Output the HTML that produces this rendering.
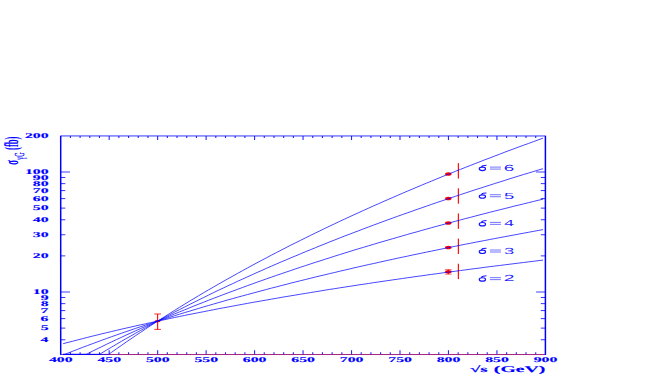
<!DOCTYPE html>
<html><head><meta charset="utf-8"><title>plot</title>
<style>
html,body{margin:0;padding:0;background:#fff;}
body{width:654px;height:382px;overflow:hidden;position:relative;}
text{fill:#0000ff;text-rendering:geometricPrecision;}
</style></head><body>
<svg width="654" height="382" viewBox="0 0 654 382" style="position:absolute;left:0;top:0">
<rect width="654" height="382" fill="#fff"/>
<line x1="60.7" y1="135.78" x2="60.7" y2="354.90" stroke="#0000ff" stroke-width="1.5"/>
<line x1="545.4" y1="135.78" x2="545.4" y2="354.90" stroke="#0000ff" stroke-width="1.5"/>
<line x1="60.7" y1="135.95" x2="545.4" y2="135.98" stroke="#0000ff" stroke-width="0.8"/>
<line x1="60.7" y1="354.45" x2="545.4" y2="354.45" stroke="#0000ff" stroke-opacity="0.68" stroke-width="1.05"/>
<line x1="70.39" y1="354.45" x2="70.39" y2="352.25" stroke="#0000ff" stroke-opacity="0.85" stroke-width="1.1"/>
<line x1="70.39" y1="135.88" x2="70.39" y2="138.08" stroke="#0000ff" stroke-opacity="0.85" stroke-width="1.1"/>
<line x1="80.09" y1="354.45" x2="80.09" y2="352.25" stroke="#0000ff" stroke-opacity="0.85" stroke-width="1.1"/>
<line x1="80.09" y1="135.88" x2="80.09" y2="138.08" stroke="#0000ff" stroke-opacity="0.85" stroke-width="1.1"/>
<line x1="89.78" y1="354.45" x2="89.78" y2="352.25" stroke="#0000ff" stroke-opacity="0.85" stroke-width="1.1"/>
<line x1="89.78" y1="135.88" x2="89.78" y2="138.08" stroke="#0000ff" stroke-opacity="0.85" stroke-width="1.1"/>
<line x1="99.48" y1="354.45" x2="99.48" y2="352.25" stroke="#0000ff" stroke-opacity="0.85" stroke-width="1.1"/>
<line x1="99.48" y1="135.88" x2="99.48" y2="138.08" stroke="#0000ff" stroke-opacity="0.85" stroke-width="1.1"/>
<line x1="109.17" y1="354.45" x2="109.17" y2="350.25" stroke="#0000ff" stroke-opacity="0.85" stroke-width="1.1"/>
<line x1="109.17" y1="135.88" x2="109.17" y2="140.08" stroke="#0000ff" stroke-opacity="0.85" stroke-width="1.1"/>
<line x1="118.86" y1="354.45" x2="118.86" y2="352.25" stroke="#0000ff" stroke-opacity="0.85" stroke-width="1.1"/>
<line x1="118.86" y1="135.88" x2="118.86" y2="138.08" stroke="#0000ff" stroke-opacity="0.85" stroke-width="1.1"/>
<line x1="128.56" y1="354.45" x2="128.56" y2="352.25" stroke="#0000ff" stroke-opacity="0.85" stroke-width="1.1"/>
<line x1="128.56" y1="135.88" x2="128.56" y2="138.08" stroke="#0000ff" stroke-opacity="0.85" stroke-width="1.1"/>
<line x1="138.25" y1="354.45" x2="138.25" y2="352.25" stroke="#0000ff" stroke-opacity="0.85" stroke-width="1.1"/>
<line x1="138.25" y1="135.88" x2="138.25" y2="138.08" stroke="#0000ff" stroke-opacity="0.85" stroke-width="1.1"/>
<line x1="147.95" y1="354.45" x2="147.95" y2="352.25" stroke="#0000ff" stroke-opacity="0.85" stroke-width="1.1"/>
<line x1="147.95" y1="135.88" x2="147.95" y2="138.08" stroke="#0000ff" stroke-opacity="0.85" stroke-width="1.1"/>
<line x1="157.64" y1="354.45" x2="157.64" y2="350.25" stroke="#0000ff" stroke-opacity="0.85" stroke-width="1.1"/>
<line x1="157.64" y1="135.88" x2="157.64" y2="140.08" stroke="#0000ff" stroke-opacity="0.85" stroke-width="1.1"/>
<line x1="167.33" y1="354.45" x2="167.33" y2="352.25" stroke="#0000ff" stroke-opacity="0.85" stroke-width="1.1"/>
<line x1="167.33" y1="135.88" x2="167.33" y2="138.08" stroke="#0000ff" stroke-opacity="0.85" stroke-width="1.1"/>
<line x1="177.03" y1="354.45" x2="177.03" y2="352.25" stroke="#0000ff" stroke-opacity="0.85" stroke-width="1.1"/>
<line x1="177.03" y1="135.88" x2="177.03" y2="138.08" stroke="#0000ff" stroke-opacity="0.85" stroke-width="1.1"/>
<line x1="186.72" y1="354.45" x2="186.72" y2="352.25" stroke="#0000ff" stroke-opacity="0.85" stroke-width="1.1"/>
<line x1="186.72" y1="135.88" x2="186.72" y2="138.08" stroke="#0000ff" stroke-opacity="0.85" stroke-width="1.1"/>
<line x1="196.42" y1="354.45" x2="196.42" y2="352.25" stroke="#0000ff" stroke-opacity="0.85" stroke-width="1.1"/>
<line x1="196.42" y1="135.88" x2="196.42" y2="138.08" stroke="#0000ff" stroke-opacity="0.85" stroke-width="1.1"/>
<line x1="206.11" y1="354.45" x2="206.11" y2="350.25" stroke="#0000ff" stroke-opacity="0.85" stroke-width="1.1"/>
<line x1="206.11" y1="135.88" x2="206.11" y2="140.08" stroke="#0000ff" stroke-opacity="0.85" stroke-width="1.1"/>
<line x1="215.80" y1="354.45" x2="215.80" y2="352.25" stroke="#0000ff" stroke-opacity="0.85" stroke-width="1.1"/>
<line x1="215.80" y1="135.88" x2="215.80" y2="138.08" stroke="#0000ff" stroke-opacity="0.85" stroke-width="1.1"/>
<line x1="225.50" y1="354.45" x2="225.50" y2="352.25" stroke="#0000ff" stroke-opacity="0.85" stroke-width="1.1"/>
<line x1="225.50" y1="135.88" x2="225.50" y2="138.08" stroke="#0000ff" stroke-opacity="0.85" stroke-width="1.1"/>
<line x1="235.19" y1="354.45" x2="235.19" y2="352.25" stroke="#0000ff" stroke-opacity="0.85" stroke-width="1.1"/>
<line x1="235.19" y1="135.88" x2="235.19" y2="138.08" stroke="#0000ff" stroke-opacity="0.85" stroke-width="1.1"/>
<line x1="244.89" y1="354.45" x2="244.89" y2="352.25" stroke="#0000ff" stroke-opacity="0.85" stroke-width="1.1"/>
<line x1="244.89" y1="135.88" x2="244.89" y2="138.08" stroke="#0000ff" stroke-opacity="0.85" stroke-width="1.1"/>
<line x1="254.58" y1="354.45" x2="254.58" y2="350.25" stroke="#0000ff" stroke-opacity="0.85" stroke-width="1.1"/>
<line x1="254.58" y1="135.88" x2="254.58" y2="140.08" stroke="#0000ff" stroke-opacity="0.85" stroke-width="1.1"/>
<line x1="264.27" y1="354.45" x2="264.27" y2="352.25" stroke="#0000ff" stroke-opacity="0.85" stroke-width="1.1"/>
<line x1="264.27" y1="135.88" x2="264.27" y2="138.08" stroke="#0000ff" stroke-opacity="0.85" stroke-width="1.1"/>
<line x1="273.97" y1="354.45" x2="273.97" y2="352.25" stroke="#0000ff" stroke-opacity="0.85" stroke-width="1.1"/>
<line x1="273.97" y1="135.88" x2="273.97" y2="138.08" stroke="#0000ff" stroke-opacity="0.85" stroke-width="1.1"/>
<line x1="283.66" y1="354.45" x2="283.66" y2="352.25" stroke="#0000ff" stroke-opacity="0.85" stroke-width="1.1"/>
<line x1="283.66" y1="135.88" x2="283.66" y2="138.08" stroke="#0000ff" stroke-opacity="0.85" stroke-width="1.1"/>
<line x1="293.36" y1="354.45" x2="293.36" y2="352.25" stroke="#0000ff" stroke-opacity="0.85" stroke-width="1.1"/>
<line x1="293.36" y1="135.88" x2="293.36" y2="138.08" stroke="#0000ff" stroke-opacity="0.85" stroke-width="1.1"/>
<line x1="303.05" y1="354.45" x2="303.05" y2="350.25" stroke="#0000ff" stroke-opacity="0.85" stroke-width="1.1"/>
<line x1="303.05" y1="135.88" x2="303.05" y2="140.08" stroke="#0000ff" stroke-opacity="0.85" stroke-width="1.1"/>
<line x1="312.74" y1="354.45" x2="312.74" y2="352.25" stroke="#0000ff" stroke-opacity="0.85" stroke-width="1.1"/>
<line x1="312.74" y1="135.88" x2="312.74" y2="138.08" stroke="#0000ff" stroke-opacity="0.85" stroke-width="1.1"/>
<line x1="322.44" y1="354.45" x2="322.44" y2="352.25" stroke="#0000ff" stroke-opacity="0.85" stroke-width="1.1"/>
<line x1="322.44" y1="135.88" x2="322.44" y2="138.08" stroke="#0000ff" stroke-opacity="0.85" stroke-width="1.1"/>
<line x1="332.13" y1="354.45" x2="332.13" y2="352.25" stroke="#0000ff" stroke-opacity="0.85" stroke-width="1.1"/>
<line x1="332.13" y1="135.88" x2="332.13" y2="138.08" stroke="#0000ff" stroke-opacity="0.85" stroke-width="1.1"/>
<line x1="341.83" y1="354.45" x2="341.83" y2="352.25" stroke="#0000ff" stroke-opacity="0.85" stroke-width="1.1"/>
<line x1="341.83" y1="135.88" x2="341.83" y2="138.08" stroke="#0000ff" stroke-opacity="0.85" stroke-width="1.1"/>
<line x1="351.52" y1="354.45" x2="351.52" y2="350.25" stroke="#0000ff" stroke-opacity="0.85" stroke-width="1.1"/>
<line x1="351.52" y1="135.88" x2="351.52" y2="140.08" stroke="#0000ff" stroke-opacity="0.85" stroke-width="1.1"/>
<line x1="361.21" y1="354.45" x2="361.21" y2="352.25" stroke="#0000ff" stroke-opacity="0.85" stroke-width="1.1"/>
<line x1="361.21" y1="135.88" x2="361.21" y2="138.08" stroke="#0000ff" stroke-opacity="0.85" stroke-width="1.1"/>
<line x1="370.91" y1="354.45" x2="370.91" y2="352.25" stroke="#0000ff" stroke-opacity="0.85" stroke-width="1.1"/>
<line x1="370.91" y1="135.88" x2="370.91" y2="138.08" stroke="#0000ff" stroke-opacity="0.85" stroke-width="1.1"/>
<line x1="380.60" y1="354.45" x2="380.60" y2="352.25" stroke="#0000ff" stroke-opacity="0.85" stroke-width="1.1"/>
<line x1="380.60" y1="135.88" x2="380.60" y2="138.08" stroke="#0000ff" stroke-opacity="0.85" stroke-width="1.1"/>
<line x1="390.30" y1="354.45" x2="390.30" y2="352.25" stroke="#0000ff" stroke-opacity="0.85" stroke-width="1.1"/>
<line x1="390.30" y1="135.88" x2="390.30" y2="138.08" stroke="#0000ff" stroke-opacity="0.85" stroke-width="1.1"/>
<line x1="399.99" y1="354.45" x2="399.99" y2="350.25" stroke="#0000ff" stroke-opacity="0.85" stroke-width="1.1"/>
<line x1="399.99" y1="135.88" x2="399.99" y2="140.08" stroke="#0000ff" stroke-opacity="0.85" stroke-width="1.1"/>
<line x1="409.68" y1="354.45" x2="409.68" y2="352.25" stroke="#0000ff" stroke-opacity="0.85" stroke-width="1.1"/>
<line x1="409.68" y1="135.88" x2="409.68" y2="138.08" stroke="#0000ff" stroke-opacity="0.85" stroke-width="1.1"/>
<line x1="419.38" y1="354.45" x2="419.38" y2="352.25" stroke="#0000ff" stroke-opacity="0.85" stroke-width="1.1"/>
<line x1="419.38" y1="135.88" x2="419.38" y2="138.08" stroke="#0000ff" stroke-opacity="0.85" stroke-width="1.1"/>
<line x1="429.07" y1="354.45" x2="429.07" y2="352.25" stroke="#0000ff" stroke-opacity="0.85" stroke-width="1.1"/>
<line x1="429.07" y1="135.88" x2="429.07" y2="138.08" stroke="#0000ff" stroke-opacity="0.85" stroke-width="1.1"/>
<line x1="438.77" y1="354.45" x2="438.77" y2="352.25" stroke="#0000ff" stroke-opacity="0.85" stroke-width="1.1"/>
<line x1="438.77" y1="135.88" x2="438.77" y2="138.08" stroke="#0000ff" stroke-opacity="0.85" stroke-width="1.1"/>
<line x1="448.46" y1="354.45" x2="448.46" y2="350.25" stroke="#0000ff" stroke-opacity="0.85" stroke-width="1.1"/>
<line x1="448.46" y1="135.88" x2="448.46" y2="140.08" stroke="#0000ff" stroke-opacity="0.85" stroke-width="1.1"/>
<line x1="458.15" y1="354.45" x2="458.15" y2="352.25" stroke="#0000ff" stroke-opacity="0.85" stroke-width="1.1"/>
<line x1="458.15" y1="135.88" x2="458.15" y2="138.08" stroke="#0000ff" stroke-opacity="0.85" stroke-width="1.1"/>
<line x1="467.85" y1="354.45" x2="467.85" y2="352.25" stroke="#0000ff" stroke-opacity="0.85" stroke-width="1.1"/>
<line x1="467.85" y1="135.88" x2="467.85" y2="138.08" stroke="#0000ff" stroke-opacity="0.85" stroke-width="1.1"/>
<line x1="477.54" y1="354.45" x2="477.54" y2="352.25" stroke="#0000ff" stroke-opacity="0.85" stroke-width="1.1"/>
<line x1="477.54" y1="135.88" x2="477.54" y2="138.08" stroke="#0000ff" stroke-opacity="0.85" stroke-width="1.1"/>
<line x1="487.24" y1="354.45" x2="487.24" y2="352.25" stroke="#0000ff" stroke-opacity="0.85" stroke-width="1.1"/>
<line x1="487.24" y1="135.88" x2="487.24" y2="138.08" stroke="#0000ff" stroke-opacity="0.85" stroke-width="1.1"/>
<line x1="496.93" y1="354.45" x2="496.93" y2="350.25" stroke="#0000ff" stroke-opacity="0.85" stroke-width="1.1"/>
<line x1="496.93" y1="135.88" x2="496.93" y2="140.08" stroke="#0000ff" stroke-opacity="0.85" stroke-width="1.1"/>
<line x1="506.62" y1="354.45" x2="506.62" y2="352.25" stroke="#0000ff" stroke-opacity="0.85" stroke-width="1.1"/>
<line x1="506.62" y1="135.88" x2="506.62" y2="138.08" stroke="#0000ff" stroke-opacity="0.85" stroke-width="1.1"/>
<line x1="516.32" y1="354.45" x2="516.32" y2="352.25" stroke="#0000ff" stroke-opacity="0.85" stroke-width="1.1"/>
<line x1="516.32" y1="135.88" x2="516.32" y2="138.08" stroke="#0000ff" stroke-opacity="0.85" stroke-width="1.1"/>
<line x1="526.01" y1="354.45" x2="526.01" y2="352.25" stroke="#0000ff" stroke-opacity="0.85" stroke-width="1.1"/>
<line x1="526.01" y1="135.88" x2="526.01" y2="138.08" stroke="#0000ff" stroke-opacity="0.85" stroke-width="1.1"/>
<line x1="535.71" y1="354.45" x2="535.71" y2="352.25" stroke="#0000ff" stroke-opacity="0.85" stroke-width="1.1"/>
<line x1="535.71" y1="135.88" x2="535.71" y2="138.08" stroke="#0000ff" stroke-opacity="0.85" stroke-width="1.1"/>
<line x1="60.7" y1="339.75" x2="65.30" y2="339.75" stroke="#0000ff" stroke-opacity="0.8" stroke-width="1"/>
<line x1="545.4" y1="339.75" x2="540.80" y2="339.75" stroke="#0000ff" stroke-opacity="0.8" stroke-width="1"/>
<line x1="60.7" y1="328.12" x2="65.30" y2="328.12" stroke="#0000ff" stroke-opacity="0.8" stroke-width="1"/>
<line x1="545.4" y1="328.12" x2="540.80" y2="328.12" stroke="#0000ff" stroke-opacity="0.8" stroke-width="1"/>
<line x1="60.7" y1="318.62" x2="65.30" y2="318.62" stroke="#0000ff" stroke-opacity="0.8" stroke-width="1"/>
<line x1="545.4" y1="318.62" x2="540.80" y2="318.62" stroke="#0000ff" stroke-opacity="0.8" stroke-width="1"/>
<line x1="60.7" y1="310.59" x2="65.30" y2="310.59" stroke="#0000ff" stroke-opacity="0.8" stroke-width="1"/>
<line x1="545.4" y1="310.59" x2="540.80" y2="310.59" stroke="#0000ff" stroke-opacity="0.8" stroke-width="1"/>
<line x1="60.7" y1="303.63" x2="65.30" y2="303.63" stroke="#0000ff" stroke-opacity="0.8" stroke-width="1"/>
<line x1="545.4" y1="303.63" x2="540.80" y2="303.63" stroke="#0000ff" stroke-opacity="0.8" stroke-width="1"/>
<line x1="60.7" y1="297.49" x2="65.30" y2="297.49" stroke="#0000ff" stroke-opacity="0.8" stroke-width="1"/>
<line x1="545.4" y1="297.49" x2="540.80" y2="297.49" stroke="#0000ff" stroke-opacity="0.8" stroke-width="1"/>
<line x1="60.7" y1="292.00" x2="70.00" y2="292.00" stroke="#0000ff" stroke-opacity="0.75" stroke-width="1"/>
<line x1="545.4" y1="292.00" x2="536.10" y2="292.00" stroke="#0000ff" stroke-opacity="0.75" stroke-width="1"/>
<line x1="60.7" y1="255.88" x2="65.30" y2="255.88" stroke="#0000ff" stroke-opacity="0.8" stroke-width="1"/>
<line x1="545.4" y1="255.88" x2="540.80" y2="255.88" stroke="#0000ff" stroke-opacity="0.8" stroke-width="1"/>
<line x1="60.7" y1="234.75" x2="65.30" y2="234.75" stroke="#0000ff" stroke-opacity="0.8" stroke-width="1"/>
<line x1="545.4" y1="234.75" x2="540.80" y2="234.75" stroke="#0000ff" stroke-opacity="0.8" stroke-width="1"/>
<line x1="60.7" y1="219.75" x2="65.30" y2="219.75" stroke="#0000ff" stroke-opacity="0.8" stroke-width="1"/>
<line x1="545.4" y1="219.75" x2="540.80" y2="219.75" stroke="#0000ff" stroke-opacity="0.8" stroke-width="1"/>
<line x1="60.7" y1="208.12" x2="65.30" y2="208.12" stroke="#0000ff" stroke-opacity="0.8" stroke-width="1"/>
<line x1="545.4" y1="208.12" x2="540.80" y2="208.12" stroke="#0000ff" stroke-opacity="0.8" stroke-width="1"/>
<line x1="60.7" y1="198.62" x2="65.30" y2="198.62" stroke="#0000ff" stroke-opacity="0.8" stroke-width="1"/>
<line x1="545.4" y1="198.62" x2="540.80" y2="198.62" stroke="#0000ff" stroke-opacity="0.8" stroke-width="1"/>
<line x1="60.7" y1="190.59" x2="65.30" y2="190.59" stroke="#0000ff" stroke-opacity="0.8" stroke-width="1"/>
<line x1="545.4" y1="190.59" x2="540.80" y2="190.59" stroke="#0000ff" stroke-opacity="0.8" stroke-width="1"/>
<line x1="60.7" y1="183.63" x2="65.30" y2="183.63" stroke="#0000ff" stroke-opacity="0.8" stroke-width="1"/>
<line x1="545.4" y1="183.63" x2="540.80" y2="183.63" stroke="#0000ff" stroke-opacity="0.8" stroke-width="1"/>
<line x1="60.7" y1="177.49" x2="65.30" y2="177.49" stroke="#0000ff" stroke-opacity="0.8" stroke-width="1"/>
<line x1="545.4" y1="177.49" x2="540.80" y2="177.49" stroke="#0000ff" stroke-opacity="0.8" stroke-width="1"/>
<line x1="60.7" y1="172.00" x2="70.00" y2="172.00" stroke="#0000ff" stroke-opacity="0.75" stroke-width="1"/>
<line x1="545.4" y1="172.00" x2="536.10" y2="172.00" stroke="#0000ff" stroke-opacity="0.75" stroke-width="1"/>
<line x1="61.8" y1="354.55" x2="544.8" y2="354.55" stroke="#ff0000" stroke-opacity="0.5" stroke-width="1"/>
<line x1="157.64" y1="314" x2="157.64" y2="329.4" stroke="#ff0000" stroke-width="1.1"/>
<line x1="154.34" y1="314.0" x2="160.94" y2="314.0" stroke="#ff0000" stroke-opacity="0.8" stroke-width="1"/>
<line x1="154.34" y1="329.4" x2="160.94" y2="329.4" stroke="#ff0000" stroke-opacity="0.8" stroke-width="1"/>
<ellipse cx="157.64" cy="321.21" rx="2.9" ry="1.15" fill="#ff0000"/>
<line x1="444.86" y1="269.57" x2="451.76" y2="269.57" stroke="#ff0000" stroke-opacity="0.6" stroke-width="0.9"/>
<line x1="444.86" y1="274.17" x2="451.76" y2="274.17" stroke="#ff0000" stroke-opacity="0.6" stroke-width="0.9"/>
<line x1="448.31" y1="269.57" x2="448.31" y2="274.17" stroke="#ff0000" stroke-width="1.1"/>
<ellipse cx="448.31" cy="271.87" rx="3.25" ry="1.75" fill="#ff0000"/>
<line x1="458.4" y1="263.73" x2="458.4" y2="279.13" stroke="#ff0000" stroke-opacity="0.92" stroke-width="1.25"/>
<ellipse cx="448.31" cy="247.38" rx="3.25" ry="1.75" fill="#ff0000"/>
<line x1="458.4" y1="238.59" x2="458.4" y2="253.99" stroke="#ff0000" stroke-opacity="0.92" stroke-width="1.25"/>
<ellipse cx="448.31" cy="222.88" rx="3.25" ry="1.75" fill="#ff0000"/>
<line x1="458.4" y1="213.45" x2="458.4" y2="228.85" stroke="#ff0000" stroke-opacity="0.92" stroke-width="1.25"/>
<ellipse cx="448.31" cy="198.39" rx="3.25" ry="1.75" fill="#ff0000"/>
<line x1="458.4" y1="188.30" x2="458.4" y2="203.70" stroke="#ff0000" stroke-opacity="0.92" stroke-width="1.25"/>
<ellipse cx="448.31" cy="173.90" rx="3.25" ry="1.75" fill="#ff0000"/>
<line x1="458.4" y1="163.16" x2="458.4" y2="178.56" stroke="#ff0000" stroke-opacity="0.92" stroke-width="1.25"/>
<path d="M63.1 343.7 L68.0 342.4 L72.8 341.2 L77.7 339.9 L82.5 338.7 L87.4 337.4 L92.2 336.2 L97.1 335.0 L101.9 333.8 L106.7 332.7 L111.6 331.5 L116.4 330.4 L121.3 329.2 L126.1 328.1 L131.0 327.0 L135.8 325.9 L140.7 324.8 L145.5 323.8 L150.4 322.7 L155.2 321.6 L160.1 320.6 L164.9 319.6 L169.8 318.5 L174.6 317.5 L179.5 316.5 L184.3 315.5 L189.1 314.5 L194.0 313.6 L198.8 312.6 L203.7 311.7 L208.5 310.7 L213.4 309.8 L218.2 308.8 L223.1 307.9 L227.9 307.0 L232.8 306.1 L237.6 305.2 L242.5 304.3 L247.3 303.4 L252.2 302.5 L257.0 301.7 L261.9 300.8 L266.7 300.0 L271.5 299.1 L276.4 298.3 L281.2 297.4 L286.1 296.6 L290.9 295.8 L295.8 295.0 L300.6 294.2 L305.5 293.4 L310.3 292.6 L315.2 291.8 L320.0 291.0 L324.9 290.2 L329.7 289.4 L334.6 288.7 L339.4 287.9 L344.2 287.2 L349.1 286.4 L353.9 285.7 L358.8 284.9 L363.6 284.2 L368.5 283.5 L373.3 282.7 L378.2 282.0 L383.0 281.3 L387.9 280.6 L392.7 279.9 L397.6 279.2 L402.4 278.5 L407.3 277.8 L412.1 277.1 L417.0 276.4 L421.8 275.8 L426.6 275.1 L431.5 274.4 L436.3 273.8 L441.2 273.1 L446.0 272.4 L450.9 271.8 L455.7 271.2 L460.6 270.5 L465.4 269.9 L470.3 269.2 L475.1 268.6 L480.0 268.0 L484.8 267.3 L489.7 266.7 L494.5 266.1 L499.4 265.5 L504.2 264.9 L509.0 264.3 L513.9 263.7 L518.7 263.1 L523.6 262.5 L528.4 261.9 L533.3 261.3 L538.1 260.7 L543.0 260.1" fill="none" stroke="#0000ff" stroke-opacity="0.72" stroke-width="1"/>
<path d="M63.1 354.4 L64.6 354.4 L68.0 353.1 L72.8 351.2 L77.7 349.3 L82.5 347.4 L87.4 345.6 L92.2 343.8 L97.1 342.0 L101.9 340.2 L106.7 338.5 L111.6 336.7 L116.4 335.0 L121.3 333.3 L126.1 331.6 L131.0 330.0 L135.8 328.3 L140.7 326.7 L145.5 325.1 L150.4 323.5 L155.2 321.9 L160.1 320.3 L164.9 318.8 L169.8 317.3 L174.6 315.7 L179.5 314.2 L184.3 312.7 L189.1 311.3 L194.0 309.8 L198.8 308.4 L203.7 306.9 L208.5 305.5 L213.4 304.1 L218.2 302.7 L223.1 301.3 L227.9 299.9 L232.8 298.6 L237.6 297.2 L242.5 295.9 L247.3 294.6 L252.2 293.3 L257.0 292.0 L261.9 290.7 L266.7 289.4 L271.5 288.1 L276.4 286.9 L281.2 285.6 L286.1 284.4 L290.9 283.1 L295.8 281.9 L300.6 280.7 L305.5 279.5 L310.3 278.3 L315.2 277.1 L320.0 275.9 L324.9 274.8 L329.7 273.6 L334.6 272.5 L339.4 271.3 L344.2 270.2 L349.1 269.1 L353.9 267.9 L358.8 266.8 L363.6 265.7 L368.5 264.6 L373.3 263.6 L378.2 262.5 L383.0 261.4 L387.9 260.3 L392.7 259.3 L397.6 258.2 L402.4 257.2 L407.3 256.2 L412.1 255.1 L417.0 254.1 L421.8 253.1 L426.6 252.1 L431.5 251.1 L436.3 250.1 L441.2 249.1 L446.0 248.1 L450.9 247.1 L455.7 246.2 L460.6 245.2 L465.4 244.2 L470.3 243.3 L475.1 242.3 L480.0 241.4 L484.8 240.5 L489.7 239.5 L494.5 238.6 L499.4 237.7 L504.2 236.8 L509.0 235.9 L513.9 235.0 L518.7 234.1 L523.6 233.2 L528.4 232.3 L533.3 231.4 L538.1 230.5 L543.0 229.6" fill="none" stroke="#0000ff" stroke-opacity="0.72" stroke-width="1"/>
<path d="M63.1 354.4 L86.0 354.4 L87.4 353.8 L92.2 351.3 L97.1 348.9 L101.9 346.6 L106.7 344.2 L111.6 341.9 L116.4 339.6 L121.3 337.4 L126.1 335.1 L131.0 332.9 L135.8 330.7 L140.7 328.5 L145.5 326.4 L150.4 324.3 L155.2 322.2 L160.1 320.1 L164.9 318.0 L169.8 316.0 L174.6 313.9 L179.5 311.9 L184.3 310.0 L189.1 308.0 L194.0 306.0 L198.8 304.1 L203.7 302.2 L208.5 300.3 L213.4 298.4 L218.2 296.6 L223.1 294.7 L227.9 292.9 L232.8 291.1 L237.6 289.3 L242.5 287.5 L247.3 285.7 L252.2 284.0 L257.0 282.2 L261.9 280.5 L266.7 278.8 L271.5 277.1 L276.4 275.4 L281.2 273.8 L286.1 272.1 L290.9 270.5 L295.8 268.8 L300.6 267.2 L305.5 265.6 L310.3 264.0 L315.2 262.4 L320.0 260.9 L324.9 259.3 L329.7 257.8 L334.6 256.2 L339.4 254.7 L344.2 253.2 L349.1 251.7 L353.9 250.2 L358.8 248.7 L363.6 247.3 L368.5 245.8 L373.3 244.4 L378.2 242.9 L383.0 241.5 L387.9 240.1 L392.7 238.7 L397.6 237.3 L402.4 235.9 L407.3 234.5 L412.1 233.1 L417.0 231.8 L421.8 230.4 L426.6 229.1 L431.5 227.7 L436.3 226.4 L441.2 225.1 L446.0 223.8 L450.9 222.5 L455.7 221.2 L460.6 219.9 L465.4 218.6 L470.3 217.4 L475.1 216.1 L480.0 214.8 L484.8 213.6 L489.7 212.3 L494.5 211.1 L499.4 209.9 L504.2 208.7 L509.0 207.5 L513.9 206.2 L518.7 205.1 L523.6 203.9 L528.4 202.7 L533.3 201.5 L538.1 200.3 L543.0 199.2" fill="none" stroke="#0000ff" stroke-opacity="0.72" stroke-width="1"/>
<path d="M63.1 354.4 L99.4 354.4 L101.9 352.9 L106.7 350.0 L111.6 347.1 L116.4 344.3 L121.3 341.4 L126.1 338.6 L131.0 335.9 L135.8 333.1 L140.7 330.4 L145.5 327.7 L150.4 325.1 L155.2 322.4 L160.1 319.8 L164.9 317.2 L169.8 314.7 L174.6 312.1 L179.5 309.6 L184.3 307.2 L189.1 304.7 L194.0 302.3 L198.8 299.9 L203.7 297.5 L208.5 295.1 L213.4 292.7 L218.2 290.4 L223.1 288.1 L227.9 285.8 L232.8 283.6 L237.6 281.3 L242.5 279.1 L247.3 276.9 L252.2 274.7 L257.0 272.5 L261.9 270.4 L266.7 268.2 L271.5 266.1 L276.4 264.0 L281.2 261.9 L286.1 259.9 L290.9 257.8 L295.8 255.8 L300.6 253.8 L305.5 251.7 L310.3 249.8 L315.2 247.8 L320.0 245.8 L324.9 243.9 L329.7 241.9 L334.6 240.0 L339.4 238.1 L344.2 236.2 L349.1 234.4 L353.9 232.5 L358.8 230.7 L363.6 228.8 L368.5 227.0 L373.3 225.2 L378.2 223.4 L383.0 221.6 L387.9 219.8 L392.7 218.1 L397.6 216.3 L402.4 214.6 L407.3 212.9 L412.1 211.2 L417.0 209.4 L421.8 207.8 L426.6 206.1 L431.5 204.4 L436.3 202.7 L441.2 201.1 L446.0 199.5 L450.9 197.8 L455.7 196.2 L460.6 194.6 L465.4 193.0 L470.3 191.4 L475.1 189.8 L480.0 188.3 L484.8 186.7 L489.7 185.2 L494.5 183.6 L499.4 182.1 L504.2 180.6 L509.0 179.0 L513.9 177.5 L518.7 176.0 L523.6 174.5 L528.4 173.1 L533.3 171.6 L538.1 170.1 L543.0 168.7" fill="none" stroke="#0000ff" stroke-opacity="0.72" stroke-width="1"/>
<path d="M63.1 354.4 L108.6 354.4 L111.6 352.3 L116.4 348.9 L121.3 345.5 L126.1 342.1 L131.0 338.8 L135.8 335.5 L140.7 332.3 L145.5 329.0 L150.4 325.8 L155.2 322.7 L160.1 319.6 L164.9 316.5 L169.8 313.4 L174.6 310.4 L179.5 307.3 L184.3 304.4 L189.1 301.4 L194.0 298.5 L198.8 295.6 L203.7 292.7 L208.5 289.9 L213.4 287.1 L218.2 284.3 L223.1 281.5 L227.9 278.8 L232.8 276.1 L237.6 273.4 L242.5 270.7 L247.3 268.0 L252.2 265.4 L257.0 262.8 L261.9 260.2 L266.7 257.7 L271.5 255.1 L276.4 252.6 L281.2 250.1 L286.1 247.6 L290.9 245.1 L295.8 242.7 L300.6 240.3 L305.5 237.9 L310.3 235.5 L315.2 233.1 L320.0 230.8 L324.9 228.4 L329.7 226.1 L334.6 223.8 L339.4 221.5 L344.2 219.3 L349.1 217.0 L353.9 214.8 L358.8 212.6 L363.6 210.4 L368.5 208.2 L373.3 206.0 L378.2 203.9 L383.0 201.7 L387.9 199.6 L392.7 197.5 L397.6 195.4 L402.4 193.3 L407.3 191.2 L412.1 189.2 L417.0 187.1 L421.8 185.1 L426.6 183.1 L431.5 181.1 L436.3 179.1 L441.2 177.1 L446.0 175.1 L450.9 173.2 L455.7 171.2 L460.6 169.3 L465.4 167.4 L470.3 165.5 L475.1 163.6 L480.0 161.7 L484.8 159.8 L489.7 158.0 L494.5 156.1 L499.4 154.3 L504.2 152.4 L509.0 150.6 L513.9 148.8 L518.7 147.0 L523.6 145.2 L528.4 143.5 L533.3 141.7 L538.1 139.9 L543.0 138.2" fill="none" stroke="#0000ff" stroke-opacity="0.72" stroke-width="1"/>
<text transform="translate(40.43,341.80) scale(2.160,1)" font-family='"Liberation Serif"' font-weight="bold" font-size="7.3" stroke="#0000ff" stroke-width="0.12">4</text>
<text transform="translate(40.67,330.17) scale(2.160,1)" font-family='"Liberation Serif"' font-weight="bold" font-size="7.3" stroke="#0000ff" stroke-width="0.12">5</text>
<text transform="translate(40.59,320.67) scale(2.160,1)" font-family='"Liberation Serif"' font-weight="bold" font-size="7.3" stroke="#0000ff" stroke-width="0.12">6</text>
<text transform="translate(40.51,312.64) scale(2.160,1)" font-family='"Liberation Serif"' font-weight="bold" font-size="7.3" stroke="#0000ff" stroke-width="0.12">7</text>
<text transform="translate(40.67,305.68) scale(2.160,1)" font-family='"Liberation Serif"' font-weight="bold" font-size="7.3" stroke="#0000ff" stroke-width="0.12">8</text>
<text transform="translate(40.67,299.54) scale(2.160,1)" font-family='"Liberation Serif"' font-weight="bold" font-size="7.3" stroke="#0000ff" stroke-width="0.12">9</text>
<text transform="translate(32.86,294.05) scale(2.160,1)" font-family='"Liberation Serif"' font-weight="bold" font-size="7.3" stroke="#0000ff" stroke-width="0.12">10</text>
<text transform="translate(32.86,257.93) scale(2.160,1)" font-family='"Liberation Serif"' font-weight="bold" font-size="7.3" stroke="#0000ff" stroke-width="0.12">20</text>
<text transform="translate(32.86,236.80) scale(2.160,1)" font-family='"Liberation Serif"' font-weight="bold" font-size="7.3" stroke="#0000ff" stroke-width="0.12">30</text>
<text transform="translate(32.86,221.80) scale(2.160,1)" font-family='"Liberation Serif"' font-weight="bold" font-size="7.3" stroke="#0000ff" stroke-width="0.12">40</text>
<text transform="translate(32.86,210.17) scale(2.160,1)" font-family='"Liberation Serif"' font-weight="bold" font-size="7.3" stroke="#0000ff" stroke-width="0.12">50</text>
<text transform="translate(32.86,200.67) scale(2.160,1)" font-family='"Liberation Serif"' font-weight="bold" font-size="7.3" stroke="#0000ff" stroke-width="0.12">60</text>
<text transform="translate(32.86,192.64) scale(2.160,1)" font-family='"Liberation Serif"' font-weight="bold" font-size="7.3" stroke="#0000ff" stroke-width="0.12">70</text>
<text transform="translate(32.86,185.68) scale(2.160,1)" font-family='"Liberation Serif"' font-weight="bold" font-size="7.3" stroke="#0000ff" stroke-width="0.12">80</text>
<text transform="translate(32.86,179.54) scale(2.160,1)" font-family='"Liberation Serif"' font-weight="bold" font-size="7.3" stroke="#0000ff" stroke-width="0.12">90</text>
<text transform="translate(24.98,174.05) scale(2.160,1)" font-family='"Liberation Serif"' font-weight="bold" font-size="7.3" stroke="#0000ff" stroke-width="0.12">100</text>
<text transform="translate(24.98,137.93) scale(2.160,1)" font-family='"Liberation Serif"' font-weight="bold" font-size="7.3" stroke="#0000ff" stroke-width="0.12">200</text>
<text transform="translate(48.97,362.45) scale(2.160,1)" font-family='"Liberation Serif"' font-weight="bold" font-size="7.3" stroke="#0000ff" stroke-width="0.12">400</text>
<text transform="translate(97.44,362.45) scale(2.160,1)" font-family='"Liberation Serif"' font-weight="bold" font-size="7.3" stroke="#0000ff" stroke-width="0.12">450</text>
<text transform="translate(145.91,362.45) scale(2.160,1)" font-family='"Liberation Serif"' font-weight="bold" font-size="7.3" stroke="#0000ff" stroke-width="0.12">500</text>
<text transform="translate(194.38,362.45) scale(2.160,1)" font-family='"Liberation Serif"' font-weight="bold" font-size="7.3" stroke="#0000ff" stroke-width="0.12">550</text>
<text transform="translate(242.85,362.45) scale(2.160,1)" font-family='"Liberation Serif"' font-weight="bold" font-size="7.3" stroke="#0000ff" stroke-width="0.12">600</text>
<text transform="translate(291.32,362.45) scale(2.160,1)" font-family='"Liberation Serif"' font-weight="bold" font-size="7.3" stroke="#0000ff" stroke-width="0.12">650</text>
<text transform="translate(339.79,362.45) scale(2.160,1)" font-family='"Liberation Serif"' font-weight="bold" font-size="7.3" stroke="#0000ff" stroke-width="0.12">700</text>
<text transform="translate(388.26,362.45) scale(2.160,1)" font-family='"Liberation Serif"' font-weight="bold" font-size="7.3" stroke="#0000ff" stroke-width="0.12">750</text>
<text transform="translate(436.73,362.45) scale(2.160,1)" font-family='"Liberation Serif"' font-weight="bold" font-size="7.3" stroke="#0000ff" stroke-width="0.12">800</text>
<text transform="translate(485.20,362.45) scale(2.160,1)" font-family='"Liberation Serif"' font-weight="bold" font-size="7.3" stroke="#0000ff" stroke-width="0.12">850</text>
<text transform="translate(533.67,362.45) scale(2.160,1)" font-family='"Liberation Serif"' font-weight="bold" font-size="7.3" stroke="#0000ff" stroke-width="0.12">900</text>
<text transform="translate(469.93,371.90) scale(2.119,1)" font-family='"Liberation Serif"' font-weight="normal" font-size="8.9" stroke="#0000ff" stroke-width="0.2">√</text>
<text transform="translate(480.34,371.90) scale(2.113,1)" font-family='"Liberation Serif"' font-weight="bold" font-size="8.9" stroke="#0000ff" stroke-width="0.12">s</text>
<text transform="translate(493.81,371.90) scale(2.229,1)" font-family='"Liberation Serif"' font-weight="bold" font-size="8.9" stroke="#0000ff" stroke-width="0.12">(GeV)</text>
<g transform="translate(17.7,164.8) scale(2.3,1) rotate(-90)"><text x="0" y="0" font-family='"Liberation Serif"' font-weight="bold" font-size="8.6">&#963;</text><text x="5.4" y="2.8" font-family='"Liberation Serif"' font-size="6" stroke="#0000ff" stroke-width="0.1">&#947;G</text><text x="14.9" y="0" font-family='"Liberation Serif"' font-weight="bold" font-size="8.6">(fb)</text></g>
<g transform="translate(478.9,167.72)" fill="none" stroke="#0000ff" stroke-opacity="0.92"><ellipse cx="3.5" cy="1.15" rx="3.15" ry="1.7" stroke-width="1.15"/><path d="M2.9 -0.5 C2.7 -1.5 3.2 -2.0 4.1 -2.05 L7.6 -2.45" stroke-width="1.05"/><circle cx="3.7" cy="-1.75" r="0.45" fill="#0000ff" stroke="none"/></g>
<line x1="489.9" y1="167.10" x2="500.9" y2="167.10" stroke="#0000ff" stroke-opacity="0.55" stroke-width="1"/>
<line x1="489.9" y1="169.08" x2="500.9" y2="169.08" stroke="#0000ff" stroke-opacity="0.55" stroke-width="1"/>
<text transform="translate(503.75,170.92) scale(2.151,1)" font-family='"Liberation Sans"' font-weight="normal" font-size="8.8" fill-opacity="0.88">6</text>
<g transform="translate(478.9,195.36)" fill="none" stroke="#0000ff" stroke-opacity="0.92"><ellipse cx="3.5" cy="1.15" rx="3.15" ry="1.7" stroke-width="1.15"/><path d="M2.9 -0.5 C2.7 -1.5 3.2 -2.0 4.1 -2.05 L7.6 -2.45" stroke-width="1.05"/><circle cx="3.7" cy="-1.75" r="0.45" fill="#0000ff" stroke="none"/></g>
<line x1="489.9" y1="194.74" x2="500.9" y2="194.74" stroke="#0000ff" stroke-opacity="0.55" stroke-width="1"/>
<line x1="489.9" y1="196.72" x2="500.9" y2="196.72" stroke="#0000ff" stroke-opacity="0.55" stroke-width="1"/>
<text transform="translate(503.96,198.56) scale(2.105,1)" font-family='"Liberation Sans"' font-weight="normal" font-size="8.8" fill-opacity="0.88">5</text>
<g transform="translate(478.9,223.00)" fill="none" stroke="#0000ff" stroke-opacity="0.92"><ellipse cx="3.5" cy="1.15" rx="3.15" ry="1.7" stroke-width="1.15"/><path d="M2.9 -0.5 C2.7 -1.5 3.2 -2.0 4.1 -2.05 L7.6 -2.45" stroke-width="1.05"/><circle cx="3.7" cy="-1.75" r="0.45" fill="#0000ff" stroke="none"/></g>
<line x1="489.9" y1="222.38" x2="500.9" y2="222.38" stroke="#0000ff" stroke-opacity="0.55" stroke-width="1"/>
<line x1="489.9" y1="224.36" x2="500.9" y2="224.36" stroke="#0000ff" stroke-opacity="0.55" stroke-width="1"/>
<text transform="translate(504.35,226.20) scale(1.980,1)" font-family='"Liberation Sans"' font-weight="normal" font-size="8.8" fill-opacity="0.88">4</text>
<g transform="translate(478.9,250.64)" fill="none" stroke="#0000ff" stroke-opacity="0.92"><ellipse cx="3.5" cy="1.15" rx="3.15" ry="1.7" stroke-width="1.15"/><path d="M2.9 -0.5 C2.7 -1.5 3.2 -2.0 4.1 -2.05 L7.6 -2.45" stroke-width="1.05"/><circle cx="3.7" cy="-1.75" r="0.45" fill="#0000ff" stroke="none"/></g>
<line x1="489.9" y1="250.02" x2="500.9" y2="250.02" stroke="#0000ff" stroke-opacity="0.55" stroke-width="1"/>
<line x1="489.9" y1="252.00" x2="500.9" y2="252.00" stroke="#0000ff" stroke-opacity="0.55" stroke-width="1"/>
<text transform="translate(503.96,253.84) scale(2.105,1)" font-family='"Liberation Sans"' font-weight="normal" font-size="8.8" fill-opacity="0.88">3</text>
<g transform="translate(478.9,278.28)" fill="none" stroke="#0000ff" stroke-opacity="0.92"><ellipse cx="3.5" cy="1.15" rx="3.15" ry="1.7" stroke-width="1.15"/><path d="M2.9 -0.5 C2.7 -1.5 3.2 -2.0 4.1 -2.05 L7.6 -2.45" stroke-width="1.05"/><circle cx="3.7" cy="-1.75" r="0.45" fill="#0000ff" stroke="none"/></g>
<line x1="489.9" y1="277.66" x2="500.9" y2="277.66" stroke="#0000ff" stroke-opacity="0.55" stroke-width="1"/>
<line x1="489.9" y1="279.64" x2="500.9" y2="279.64" stroke="#0000ff" stroke-opacity="0.55" stroke-width="1"/>
<text transform="translate(503.73,281.48) scale(2.198,1)" font-family='"Liberation Sans"' font-weight="normal" font-size="8.8" fill-opacity="0.88">2</text>
</svg>
</body></html>
